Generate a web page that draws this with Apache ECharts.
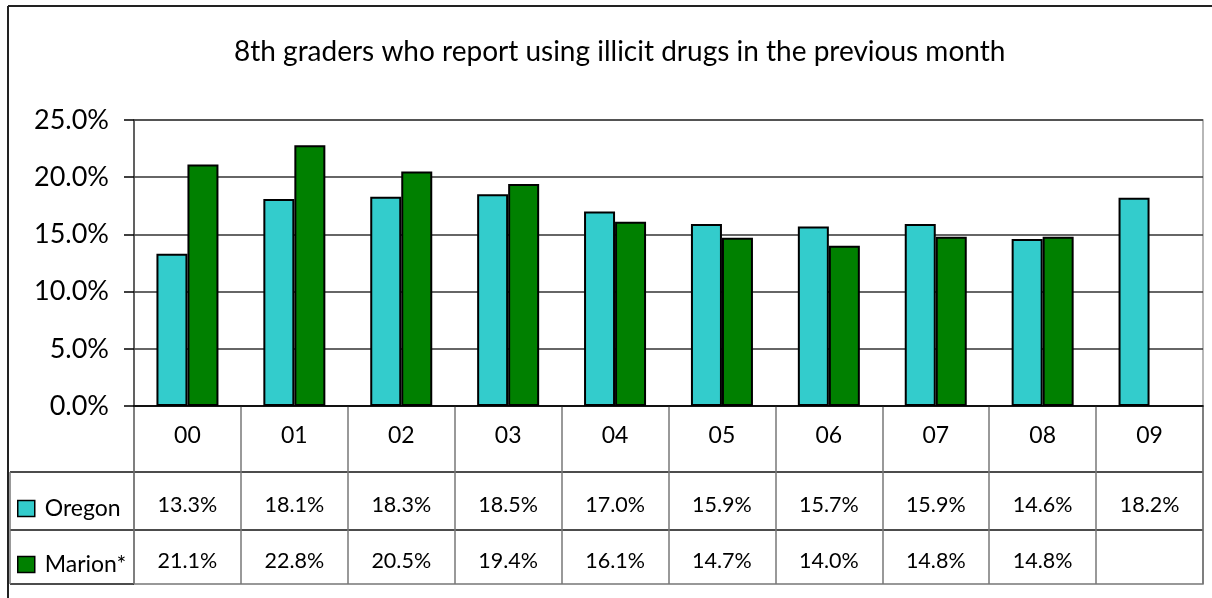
<!DOCTYPE html>
<html>
<head>
<meta charset="utf-8">
<script src="https://cdn.jsdelivr.net/npm/echarts@6/dist/echarts.min.js"></script>
<style>
  html, body { margin: 0; padding: 0; background: #fff; }
  #chart { width: 1212px; height: 598px; }
</style>
</head>
<body>
<div id="chart"></div>
<script>
// chart values
const years = ['00', '01', '02', '03', '04', '05', '06', '07', '08', '09']
const oregon = [13.3, 18.1, 18.3, 18.5, 17.0, 15.9, 15.7, 15.9, 14.6, 18.2]
const marion = [21.1, 22.8, 20.5, 19.4, 16.1, 14.7, 14.0, 14.8, 14.8, null]
const yTicks = [0, 5, 10, 15, 20, 25]

const FONT = 'Lato'
const pct = v => (v == null ? ' ' : v.toFixed(1) + '%')

const chart = echarts.init(document.getElementById('chart'))

// 表格行（年份 / Oregon / Marion）放在x轴标签里
function tableLabel(value, idx) {
  return '{a|' + value + '}\n{b|' + pct(oregon[idx]) + '}\n{c|' + pct(marion[idx]) + '}'
}

const cellText = { fontFamily: FONT, fontSize: 21.5, color: '#000', align: 'center' }

chart.setOption({
  animation: false,
  backgroundColor: '#fff',
  title: {
    text: '8th graders who report using illicit drugs in the previous month',
    left: 229,
    top: 33,
    textStyle: { fontFamily: FONT, fontSize: 28, fontWeight: 'normal', color: '#000' }
  },
  legend: {
    orient: 'vertical',
    left: 12,
    top: 492,
    itemWidth: 17,
    itemHeight: 16,
    itemGap: 33,
    icon: 'rect',
    itemStyle: { borderColor: '#000', borderWidth: 1.5 },
    textStyle: { fontFamily: FONT, fontSize: 23, color: '#000', padding: [0, 0, 0, 5] },
    data: ['Oregon', 'Marion*']
  },
  grid: [
    { left: 134, right: 9, top: 120, bottom: 192, show: true, borderColor: '#a0a0a0', borderWidth: 1.5 },
    { left: 134, right: 9, top: 406, bottom: 14, show: true, borderColor: '#777', borderWidth: 1.5 }
  ],
  xAxis: [
    {
      type: 'category',
      gridIndex: 0,
      data: years,
      axisLine: { lineStyle: { color: '#000', width: 1.5 } },
      axisTick: { show: false },
      axisLabel: {
        margin: 1,
        formatter: tableLabel,
        rich: {
          a: Object.assign({ lineHeight: 58 }, cellText, { fontSize: 23 }),
          b: Object.assign({ lineHeight: 80 }, cellText),
          c: Object.assign({ lineHeight: 32 }, cellText)
        }
      }
    },
    {
      type: 'category',
      gridIndex: 1,
      data: years,
      axisLine: { show: false },
      axisTick: { show: false },
      axisLabel: { show: false },
      splitLine: { show: true, lineStyle: { color: '#777', width: 1.5 } }
    }
  ],
  yAxis: [
    {
      type: 'value',
      gridIndex: 0,
      min: yTicks[0],
      max: yTicks[yTicks.length - 1],
      interval: 5,
      axisLine: { show: true, lineStyle: { color: '#444', width: 1.5 } },
      axisTick: { show: true, length: 10, lineStyle: { color: '#000', width: 1.5 } },
      axisLabel: {
        margin: 25,
        fontFamily: FONT,
        fontSize: 27,
        color: '#000',
        formatter: v => v.toFixed(1) + '%'
      },
      splitLine: { lineStyle: { color: '#333', width: 1.5 } }
    },
    { type: 'value', gridIndex: 1, show: false }
  ],
  series: [
    {
      name: 'Oregon',
      type: 'bar',
      data: oregon,
      barWidth: '29%',
      barGap: '0%',
      itemStyle: { color: '#33CCCC', borderColor: '#000', borderWidth: 2 }
    },
    {
      name: 'Marion*',
      type: 'bar',
      data: marion,
      barWidth: '29%',
      barGap: '0%',
      itemStyle: { color: '#008000', borderColor: '#000', borderWidth: 2 }
    }
  ],
  graphic: [
    // outer frame (left and top edges)
    { type: 'line', shape: { x1: 8, y1: 6, x2: 8, y2: 598 }, style: { stroke: '#222', lineWidth: 2 } },
    { type: 'line', shape: { x1: 8, y1: 6, x2: 1212, y2: 6 }, style: { stroke: '#222', lineWidth: 2 } },
    // data table row lines and legend column
    { type: 'line', shape: { x1: 10, y1: 472, x2: 1203, y2: 472 }, style: { stroke: '#111', lineWidth: 1.5 } },
    { type: 'line', shape: { x1: 10, y1: 530, x2: 1203, y2: 530 }, style: { stroke: '#111', lineWidth: 1.5 } },
    { type: 'line', shape: { x1: 10, y1: 584, x2: 134, y2: 584 }, style: { stroke: '#111', lineWidth: 1.5 } },
    { type: 'line', shape: { x1: 10, y1: 472, x2: 10, y2: 584 }, style: { stroke: '#777', lineWidth: 1.5 } }
  ]
})
</script>
</body>
</html>
